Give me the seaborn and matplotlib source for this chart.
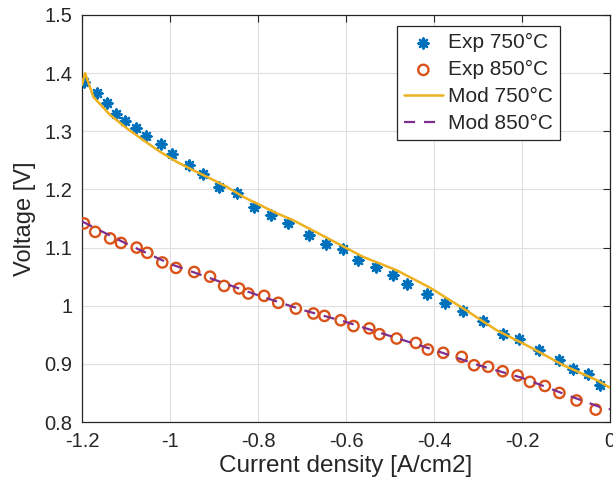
import matplotlib
matplotlib.use("Agg")
import matplotlib.pyplot as plt
import seaborn as sns
import pandas as pd
from matplotlib.ticker import FixedLocator, FuncFormatter

# ---- data ----
exp750_i = [-1.1955, -1.165, -1.1425, -1.1235, -1.102, -1.078, -1.0545, -1.021, -0.996,
            -0.957, -0.924, -0.889, -0.848, -0.809, -0.771, -0.7325, -0.685, -0.646,
            -0.606, -0.572, -0.5325, -0.4925, -0.4606, -0.415, -0.375, -0.335, -0.289,
            -0.244, -0.206, -0.161, -0.117, -0.083, -0.049, -0.0227]
exp750_v = [1.385, 1.365, 1.348, 1.330, 1.318, 1.305, 1.292, 1.278, 1.261,
            1.242, 1.226, 1.205, 1.193, 1.170, 1.156, 1.1425, 1.122, 1.107,
            1.0967, 1.078, 1.067, 1.0525, 1.037, 1.021, 1.004, 0.9905, 0.9733,
            0.952, 0.942, 0.9234, 0.9062, 0.892, 0.883, 0.864]

exp850_i = [-1.1955, -1.170, -1.136, -1.1114, -1.0757, -1.0516, -1.0175, -0.9864, -0.945,
            -0.909, -0.877, -0.843, -0.822, -0.786, -0.754, -0.714, -0.674, -0.649,
            -0.612, -0.583, -0.547, -0.524, -0.485, -0.441, -0.414, -0.379, -0.337,
            -0.309, -0.277, -0.244, -0.210, -0.182, -0.148, -0.115, -0.076, -0.0325]
exp850_v = [1.1415, 1.127, 1.1157, 1.108, 1.100, 1.091, 1.0744, 1.065, 1.058,
            1.050, 1.034, 1.0296, 1.021, 1.017, 1.005, 0.995, 0.9866, 0.9825,
            0.975, 0.965, 0.961, 0.951, 0.9436, 0.936, 0.9246, 0.919, 0.912,
            0.8976, 0.895, 0.8873, 0.880, 0.869, 0.862, 0.850, 0.837, 0.8213]

mod750_i = [-1.200, -1.193, -1.174, -1.136, -1.098, -1.061, -1.023, -0.985, -0.947, -0.909,
            -0.871, -0.833, -0.795, -0.7575, -0.720, -0.644, -0.561, -0.485, -0.409,
            -0.333, -0.258, -0.182, -0.106, -0.030, 0.0]
mod750_v = [1.380, 1.400, 1.359, 1.328, 1.305, 1.285, 1.265, 1.2475, 1.233, 1.219,
            1.2045, 1.187, 1.173, 1.159, 1.147, 1.117, 1.084, 1.061, 1.031,
            0.995, 0.958, 0.929, 0.8976, 0.872, 0.859]

mod850_i = [-1.2, -1.1, -1.0, -0.9, -0.8, -0.7, -0.6, -0.5, -0.4, -0.3, -0.2, -0.1, -0.02, 0.0]
mod850_v = [1.145, 1.107, 1.072, 1.045, 1.018, 0.993, 0.972, 0.948, 0.924, 0.898, 0.876,
            0.847, 0.825, 0.822]

x_ticks = [-1.2, -1.0, -0.8, -0.6, -0.4, -0.2, 0.0]
y_ticks = [0.8, 0.9, 1.0, 1.1, 1.2, 1.3, 1.4, 1.5]

labels = ["Exp 750°C", "Exp 850°C", "Mod 750°C", "Mod 850°C"]
colors = ["#0072BD", "#D95319", "#EDB120", "#7E2F8E"]

# ---- style ----
sns.set_style("white")
plt.rcParams["font.family"] = ["Liberation Sans", "DejaVu Sans"]
plt.rcParams["axes.unicode_minus"] = False

fig = plt.figure(figsize=(6.13, 4.90), dpi=100)
ax = fig.add_axes([82 / 613, 68 / 490, 528 / 613, 407 / 490])

df750 = pd.DataFrame({"I": exp750_i, "V": exp750_v})
df850 = pd.DataFrame({"I": exp850_i, "V": exp850_v})
dm750 = pd.DataFrame({"I": mod750_i, "V": mod750_v})
dm850 = pd.DataFrame({"I": mod850_i, "V": mod850_v})

sns.scatterplot(data=df750, x="I", y="V", ax=ax, marker=(8, 2, 0), s=50,
                color=colors[0], edgecolor=colors[0], linewidth=1.8, label=labels[0], zorder=3)
sns.scatterplot(data=df850, x="I", y="V", ax=ax, marker="o", s=55,
                facecolor="none", edgecolor=colors[1], linewidth=1.7, label=labels[1], zorder=3)
sns.lineplot(data=dm750, x="I", y="V", ax=ax, color=colors[2], linewidth=1.8,
             label=labels[2], sort=False, estimator=None, zorder=4)
sns.lineplot(data=dm850, x="I", y="V", ax=ax, color=colors[3], linewidth=1.6,
             linestyle=(0, (5, 4)), label=labels[3], sort=False, estimator=None, zorder=4)

ax.set_xlim(-1.2, 0.0)
ax.set_ylim(0.8, 1.5)
ax.xaxis.set_major_locator(FixedLocator(x_ticks))
ax.yaxis.set_major_locator(FixedLocator(y_ticks))
fmt = FuncFormatter(lambda v, p: "%g" % round(v, 4))
ax.xaxis.set_major_formatter(fmt)
ax.yaxis.set_major_formatter(fmt)

ax.grid(True, color="#DFDFDF", linewidth=0.8)
ax.set_axisbelow(True)
for sp in ax.spines.values():
    sp.set_color("#262626")
    sp.set_linewidth(0.9)
ax.tick_params(direction="in", length=5, width=0.8, color="#262626",
               top=True, right=True, labelsize=14.5, labelcolor="#262626", pad=7)

ax.set_xlabel("Current density [A/cm2]", fontsize=17.5, color="#262626", labelpad=3)
ax.set_ylabel("Voltage [V]", fontsize=17, color="#262626", labelpad=6)

leg = ax.legend(loc="upper right", fontsize=15, frameon=True, fancybox=False,
                edgecolor="#262626", framealpha=1, borderpad=0.35, labelspacing=0.38,
                handlelength=1.85, handletextpad=0.25, borderaxespad=0,
                bbox_to_anchor=(478 / 528, 1 - 11 / 407), bbox_transform=ax.transAxes)
leg.get_frame().set_linewidth(0.9)

fig.savefig("out.png", dpi=100)
